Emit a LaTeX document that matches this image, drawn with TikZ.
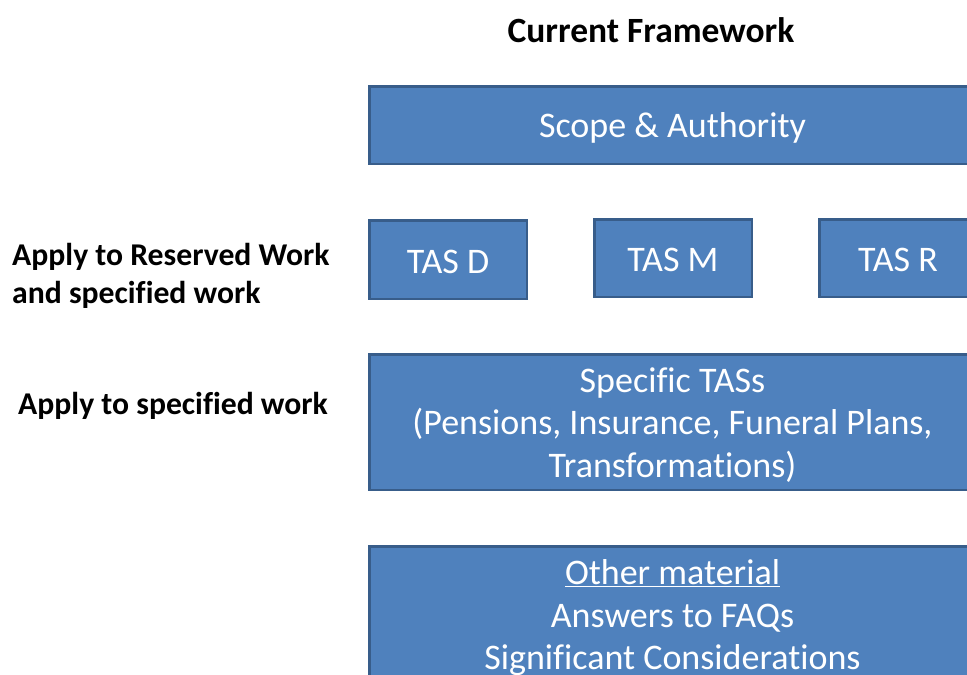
\documentclass[tikz,border=0pt]{standalone}
\usepackage{fontspec}
\setmainfont[Ligatures=NoCommon]{Carlito}
\definecolor{boxfill}{HTML}{4F81BD}
\definecolor{boxline}{HTML}{385D8A}
\begin{document}
\begin{tikzpicture}[x=1pt,y=-1pt,
  bluebox/.style={draw=boxline,fill=boxfill,line width=2.5pt,inner sep=0pt},
  boxtext/.style={text=white,inner sep=0pt,align=center,font=\fontsize{36}{42.5}\selectfont},
  sidelabel/.style={inner sep=0pt,font=\bfseries\fontsize{31.7}{38}\selectfont}]
\useasboundingbox (0,0) rectangle (967,675);
\clip (0,0) rectangle (967,675);
\node[font=\bfseries\fontsize{35.5}{40}\selectfont,inner sep=0pt] (title) at (651,30) {Current Framework};
\node[bluebox,minimum width=606.5pt,minimum height=77.5pt] (scope) at (672.5,125) {};
\node[bluebox,minimum width=157.5pt,minimum height=78.5pt] (tasd) at (448,259.5) {};
\node[bluebox,minimum width=157.5pt,minimum height=77.5pt] (tasm) at (673,258) {};
\node[bluebox,minimum width=157.5pt,minimum height=77.5pt] (tasr) at (898,258) {};
\node[bluebox,minimum width=606.5pt,minimum height=135.5pt] (specific) at (672.5,422) {};
\node[bluebox,minimum width=606.5pt,minimum height=137.5pt] (other) at (672.5,615) {};
\node[boxtext] (scopet) at ([yshift=-3pt]scope.center) {Scope \& Authority};
\node[boxtext] (tasdt) at ([yshift=-2pt]tasd.center) {TAS D};
\node[boxtext] (tasmt) at ([yshift=-2pt]tasm.center) {TAS M};
\node[boxtext] (tasrt) at ([yshift=-2pt]tasr.center) {TAS R};
\node[boxtext] (specifict) at ([yshift=-3pt]specific.center) {Specific TASs\\(Pensions, Insurance, Funeral Plans,\\Transformations)};
\node[boxtext] (othert) at ([yshift=-3pt]other.center) {\underline{Other material}\\Answers to FAQs\\Significant Considerations};
\node[sidelabel,align=left,anchor=west] (reserved) at (12,276) {Apply to Reserved Work\\and specified work};
\node[sidelabel] (specified) at (173,406) {Apply to specified work};
\end{tikzpicture}
\end{document}
